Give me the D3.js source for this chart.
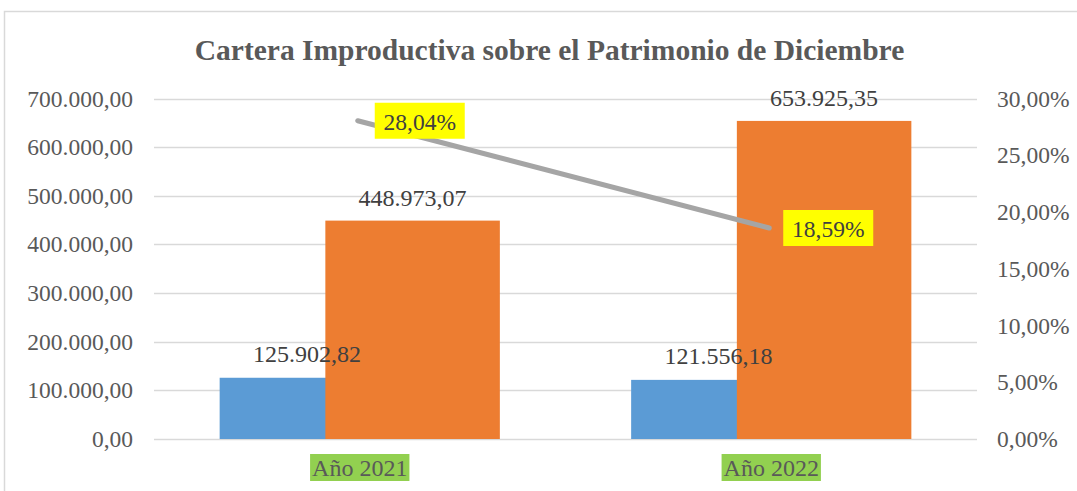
<!DOCTYPE html>
<html><head><meta charset="utf-8">
<script src="https://cdn.jsdelivr.net/npm/d3@7"></script>
<style>body{margin:0;background:#fff}svg{display:block}</style>
</head><body>
<svg id="c" width="1077" height="491"></svg>
<script>
const categories = ["Año 2021", "Año 2022"];
const carteraImproductiva = [125902.82, 121556.18];
const patrimonio = [448973.07, 653925.35];
const porcentaje = [0.2804, 0.1859];
const leftTicks = [0, 100000, 200000, 300000, 400000, 500000, 600000, 700000];
const rightTicks = [0, 0.05, 0.10, 0.15, 0.20, 0.25, 0.30];
const title = "Cartera Improductiva sobre el Patrimonio de Diciembre";

const FONT = "Liberation Serif";
const svg = d3.select("#c");
const plot = {l: 154, r: 977, t: 98.5, b: 439};
const txt = "#595959";

svg.append("rect").attr("x", 4.5).attr("y", 11.5).attr("width", 1200).attr("height", 600)
  .attr("fill", "#fff").attr("stroke", "#D9D9D9").attr("stroke-width", 1.5);

const x = d3.scaleBand().domain(categories).range([plot.l, plot.r]);
const yL = d3.scaleLinear().domain([0, 700000]).range([plot.b, plot.t]);
const yR = d3.scaleLinear().domain([0, 0.30]).range([plot.b, plot.t]);

const fmtNum = v => {
  const s = d3.format(",.2f")(v);
  return s.replace(/,/g, "#").replace(/\./g, ",").replace(/#/g, ".");
};
const fmtPct = v => d3.format(".2f")(v * 100).replace(".", ",") + "%";

// Gridlines
svg.append("g").selectAll("line").data(leftTicks).join("line")
  .attr("x1", plot.l).attr("x2", plot.r)
  .attr("y1", d => Math.round(yL(d)) + 0.5).attr("y2", d => Math.round(yL(d)) + 0.5)
  .attr("stroke", "#D9D9D9").attr("stroke-width", 1.3);

// Left axis
const gl = svg.append("g").attr("transform", `translate(${plot.l},0)`)
  .call(d3.axisLeft(yL).tickValues(leftTicks).tickFormat(fmtNum).tickSize(0).tickPadding(21));
gl.attr("font-family", null).attr("font-size", null);
gl.select(".domain").remove();
gl.selectAll("text").attr("fill", txt).style("font-size", "23.5px").style("font-family", FONT);

// Right axis
const gr = svg.append("g").attr("transform", `translate(${plot.r},0)`)
  .call(d3.axisRight(yR).tickValues(rightTicks).tickFormat(fmtPct).tickSize(0).tickPadding(20));
gr.attr("font-family", null).attr("font-size", null);
gr.select(".domain").remove();
gr.selectAll("text").attr("fill", txt).style("font-size", "23.5px").style("font-family", FONT);

// Bars
const barW = 174.5, offset = 105.7;
const groupW = barW + offset;
const bx = (c, i) => x(c) + x.bandwidth() / 2 - groupW / 2 + i * offset;

svg.append("g").selectAll("rect").data(categories).join("rect")
  .attr("x", c => bx(c, 0)).attr("width", barW)
  .attr("y", (c, i) => yL(carteraImproductiva[i]))
  .attr("height", (c, i) => plot.b - yL(carteraImproductiva[i]))
  .attr("fill", "#5B9BD5");
svg.append("g").selectAll("rect").data(categories).join("rect")
  .attr("x", c => bx(c, 1)).attr("width", barW)
  .attr("y", (c, i) => yL(patrimonio[i]))
  .attr("height", (c, i) => plot.b - yL(patrimonio[i]))
  .attr("fill", "#ED7D31");

// Bar labels
svg.append("g").selectAll("text").data(categories).join("text")
  .attr("x", c => bx(c, 0) + barW / 2)
  .attr("y", (c, i) => yL(carteraImproductiva[i]) - 16)
  .attr("text-anchor", "middle").attr("fill", "#404040").style("font-size", "24px").style("font-family", FONT)
  .text((c, i) => fmtNum(carteraImproductiva[i]));
svg.append("g").selectAll("text").data(categories).join("text")
  .attr("x", c => bx(c, 1) + barW / 2)
  .attr("y", (c, i) => yL(patrimonio[i]) - 15)
  .attr("text-anchor", "middle").attr("fill", "#404040").style("font-size", "24px").style("font-family", FONT)
  .text((c, i) => fmtNum(patrimonio[i]));

// Line
const cx = c => x(c) + x.bandwidth() / 2 - 2;
const line = d3.line().x(d => cx(d.c)).y(d => yR(d.v));
const pts = categories.map((c, i) => ({c, v: porcentaje[i]}));
svg.append("path").datum(pts).attr("d", line)
  .attr("fill", "none").attr("stroke", "#A5A5A5").attr("stroke-width", 5).attr("stroke-linecap", "round");

// Line labels (yellow boxes right of the points)
const lblDx = [17, 14];
pts.forEach((p, i) => {
  const g = svg.append("g");
  const left = cx(p.c) + lblDx[i], top = yR(p.v) - 18;
  const t = g.append("text").attr("x", left + 45).attr("y", top + 27).attr("text-anchor", "middle")
    .attr("fill", "#404040").style("font-size", "23.5px").style("font-family", FONT).text(fmtPct(p.v));
  g.insert("rect", "text").attr("x", left).attr("y", top)
    .attr("width", 90).attr("height", 36).attr("fill", "#FFFF00");
});

// Category labels
categories.forEach(c => {
  const g = svg.append("g");
  const t = g.append("text").attr("x", x(c) + x.bandwidth() / 2).attr("y", 476)
    .attr("text-anchor", "middle").attr("fill", txt).style("font-size", "24px").style("font-family", FONT).text(c);
  const bb = t.node().getBBox();
  g.insert("rect", "text").attr("x", bb.x - 2).attr("y", 454).attr("width", bb.width + 4).attr("height", 27).attr("fill", "#92D050");
});

// Title
svg.append("text").attr("x", 549.5).attr("y", 60).attr("text-anchor", "middle")
  .attr("fill", txt).style("font-size", "29.5px").style("font-weight", "bold").style("font-family", FONT).text(title);
</script>
</body></html>
